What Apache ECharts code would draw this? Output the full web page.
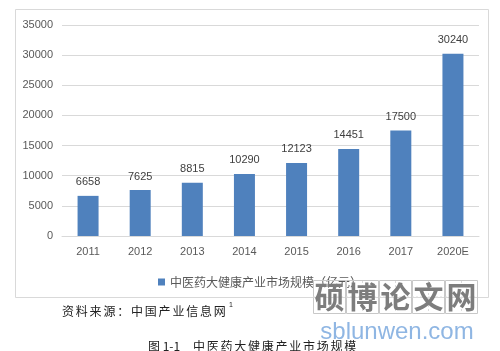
<!DOCTYPE html>
<html><head><meta charset="utf-8">
<script src="https://cdn.jsdelivr.net/npm/echarts@6/dist/echarts.min.js"></script>
<style>html,body{margin:0;padding:0;background:#fff}#c{width:500px;height:351px}</style>
</head><body><div id="c"></div>
<script>
var categories = ['2011','2012','2013','2014','2015','2016','2017','2020E'];
var values = [6658, 7625, 8815, 10290, 12123, 14451, 17500, 30240];
var seriesName = '中医药大健康产业市场规模（亿元）';
var yTicks = {min: 0, max: 35000, interval: 5000};
var sourceText = '资料来源：中国产业信息网';
var captionPrefix = '图 1-1';
var captionText = '中医药大健康产业市场规模';
var wmChars = ['硕','博','论','文','网'];
var wmUrl = 'sblunwen.com';

var chart = echarts.init(document.getElementById('c'), null, {renderer:'canvas'});
var fontCN = '"Noto Sans CJK SC", "Microsoft YaHei", sans-serif';
var fontNum = '"Liberation Sans", Arial, sans-serif';
var graphics = [
  {type:'rect', shape:{x:15.5,y:9.5,width:473,height:288}, style:{fill:'none',stroke:'#d9d9d9',lineWidth:1}, z:-1}
];
function spaced(str, x0, y, step, size){
  Array.prototype.forEach.call(str, function(ch, i){
    graphics.push({type:'text', x:x0 + i*step, y:y, style:{text:ch, font:size+'px '+fontCN, fill:'#222', verticalAlign:'middle'}});
  });
}
spaced(sourceText, 62, 311, 13.8, 12);
graphics.push({type:'text', x:229, y:305, style:{text:'1', font:'7px '+fontNum, fill:'#222', verticalAlign:'middle'}});
graphics.push({type:'text', x:148, y:346, style:{text:captionPrefix, font:'12px '+fontCN, fill:'#222', verticalAlign:'middle'}});
spaced(captionText, 193, 346, 13.75, 12);

wmChars.forEach(function(ch, i){
  var x0 = 313 + i*33;
  graphics.push({type:'rect', shape:{x:x0+0.5,y:280.5,width:32,height:33}, style:{fill:'none',stroke:'#c8c8c8',lineWidth:1}, z:5});
  graphics.push({type:'line', shape:{x1:x0+16.5,y1:281,x2:x0+16.5,y2:313}, style:{stroke:'#dcdcdc',lineWidth:1,lineDash:[2,2]}, z:5});
  graphics.push({type:'line', shape:{x1:x0,y1:297,x2:x0+32,y2:297}, style:{stroke:'#dcdcdc',lineWidth:1,lineDash:[2,2]}, z:5});
  graphics.push({type:'text', x:x0+16.5, y:297, style:{text:ch, font:'bold 30px '+fontCN, fill:'#7d7d7d', align:'center', verticalAlign:'middle'}, z:6});
});
graphics.push({type:'text', x:397, y:332, style:{text:wmUrl, font:'24px '+fontNum, fill:'#8fb6e3', align:'center', verticalAlign:'middle'}, z:6});

chart.setOption({
  animation:false,
  backgroundColor:'#fff',
  grid:{left:62, right:21, top:25, bottom:115},
  legend:{
    data:[seriesName], left:153, top:271, itemWidth:7, itemHeight:7, icon:'rect', itemGap:4,
    textStyle:{fontSize:12, color:'#595959', fontFamily:fontCN}
  },
  xAxis:{
    type:'category', data:categories,
    axisLine:{lineStyle:{color:'#d9d9d9'}}, axisTick:{show:false},
    axisLabel:{color:'#595959', fontSize:11, margin:10, fontFamily:fontNum}
  },
  yAxis:{
    type:'value', min:yTicks.min, max:yTicks.max, interval:yTicks.interval,
    axisLine:{show:false}, axisTick:{show:false},
    axisLabel:{color:'#595959', fontSize:11, margin:9, fontFamily:fontNum, formatter:function(v){return String(v);}},
    splitLine:{lineStyle:{color:'#d9d9d9'}}
  },
  series:[{
    name:seriesName, type:'bar', data:values, barWidth:21,
    itemStyle:{color:'#4f81bd'},
    label:{show:true, position:'top', distance:8, color:'#404040', fontSize:11, fontFamily:fontNum}
  }],
  graphic:graphics
});
</script></body></html>
